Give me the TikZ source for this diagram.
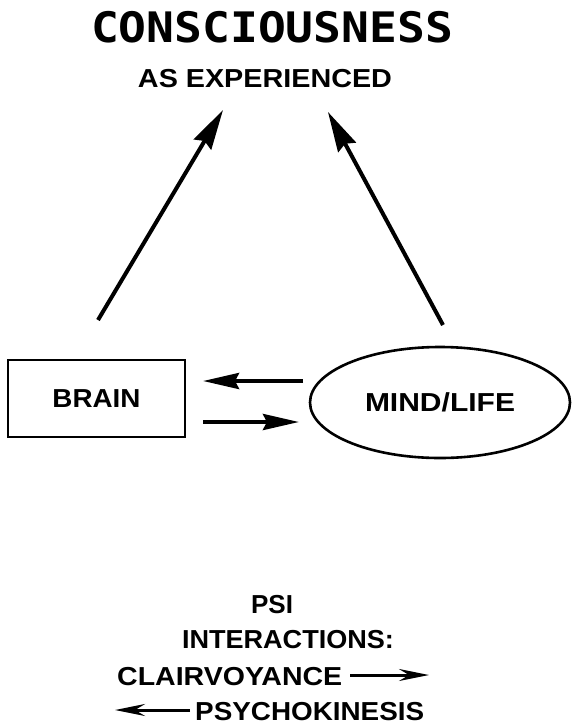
\documentclass[tikz,border=0pt]{standalone}
\usepackage{fontspec}
\usepackage{graphicx}
\setmainfont{Liberation Sans}
\newfontfamily\titfont{DejaVu Sans Mono}
\usetikzlibrary{arrows.meta,shapes.geometric}
\tikzset{
  lab/.style={font=\bfseries\fontsize{26}{26}\selectfont, inner sep=0pt, text depth=0pt},
  bigarrow/.style={line width=4pt, -{Stealth[length=40pt,width=20pt,inset=4pt]}},
  midarrow/.style={line width=4pt, -{Stealth[length=36pt,width=16pt,inset=4pt]}},
  smallarrow/.style={line width=3pt, -{Stealth[length=30pt,width=12pt,inset=10pt]}},
  boxstyle/.style={draw, line width=2pt, minimum width=177pt, minimum height=77pt, inner sep=0pt},
  ellstyle/.style={draw, ellipse, line width=2.6pt, minimum width=260pt, minimum height=111pt, inner sep=0pt}
}
\begin{document}
\begin{tikzpicture}[x=1pt,y=-1pt]
\useasboundingbox (0,0) rectangle (577,724);
% title
\node[anchor=base, inner sep=0pt, font=\titfont\bfseries\fontsize{42}{42}\selectfont] (title) at (272,42) {\resizebox{362pt}{\height}{CONSCIOUSNESS}};
\node[lab, anchor=base] (sub) at (265,87) {\resizebox{254pt}{\height}{AS EXPERIENCED}};
% brain and mind
\node[boxstyle, lab] (brain) at (96.5,398.5) {\resizebox{88pt}{\height}{BRAIN}};
\node[ellstyle, lab] (mind) at (440,402.5) {\resizebox{150pt}{\height}{MIND/LIFE}};
% diagonal arrows
\coordinate (lt) at (98,320);
\coordinate (lh) at (223,110);
\coordinate (rt) at (443,325);
\coordinate (rh) at (328,112);
\draw[bigarrow] (lt) -- (lh);
\draw[bigarrow] (rt) -- (rh);
% horizontal arrows
\coordinate (ua) at (303,381);
\coordinate (ub) at (203,381);
\coordinate (la) at (203,422);
\coordinate (lb) at (299,422);
\draw[midarrow] (ua) -- (ub);
\draw[midarrow] (la) -- (lb);
% legend
\node[lab, anchor=base] (psi) at (272,613) {\resizebox{42pt}{\height}{PSI}};
\node[lab, anchor=base] (inter) at (288,648) {\resizebox{212pt}{\height}{INTERACTIONS:}};
\node[lab, anchor=base west] (clair) at (117,685) {\resizebox{225pt}{\height}{CLAIRVOYANCE}};
\node[lab, anchor=base west] (psycho) at (195,720) {\resizebox{229pt}{\height}{PSYCHOKINESIS}};
\coordinate (ca) at (350,675);
\coordinate (cb) at (429,675);
\coordinate (pa) at (190,710);
\coordinate (pb) at (115,710);
\draw[smallarrow] (ca) -- (cb);
\draw[smallarrow] (pa) -- (pb);
\end{tikzpicture}
\end{document}
